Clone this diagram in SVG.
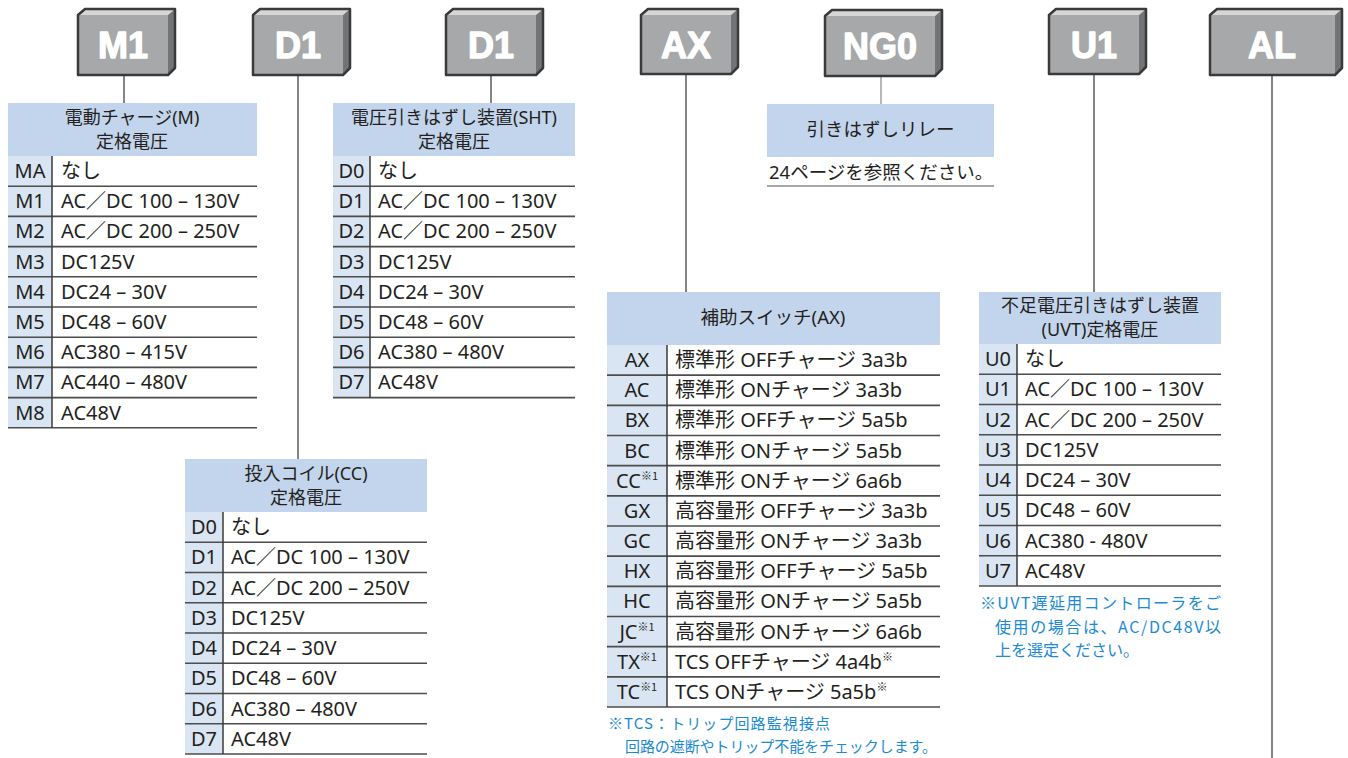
<svg xmlns="http://www.w3.org/2000/svg" width="1348" height="758" viewBox="0 0 1348 758">
<style>
text{font-family:"Noto Sans","Noto Sans CJK JP",sans-serif;fill:#231f20}
.bt{font-family:"Liberation Sans",Arial,sans-serif;font-weight:bold;font-size:36px;fill:#fff;text-anchor:middle;stroke:#fff;stroke-width:1.3;stroke-linejoin:round}
.fr{fill:#a7a8aa}.tp{fill:#d5d6d7}.sd{fill:#737477}
.ol{fill:none;stroke:#3a3a3a;stroke-width:2.5;stroke-linejoin:round}
.hd{fill:#c3d5ec}.cd{fill:#dae5f3}
.h{font-size:18px;text-anchor:middle}
.c{font-size:20px;text-anchor:middle}
.v{font-size:20px}
.ln{stroke:#4d4d4d;stroke-width:1.6}
.dv{stroke:#3a3a3a;stroke-width:1.5}
.n{font-size:15px;fill:#1a8ad2;font-family:"Noto Sans CJK JP","Noto Sans",sans-serif}
.con{stroke:#333;stroke-width:1.2;fill:none}
.sup{font-size:11px;font-family:"Noto Sans CJK JP",sans-serif}
</style>

<g id="connectors">
<line class="con" x1="124" y1="75" x2="124" y2="103"/>
<line class="con" x1="298" y1="75" x2="298" y2="459"/>
<line class="con" x1="491" y1="75" x2="491" y2="103"/>
<line class="con" x1="686" y1="74" x2="686" y2="292"/>
<line class="con" x1="881" y1="76" x2="881" y2="104" style="stroke:#888"/>
<line class="con" x1="1094" y1="74" x2="1094" y2="292"/>
<line class="con" x1="1272" y1="75" x2="1272" y2="758"/>
</g>

<g id="box-M1">
<rect class="fr" x="78" y="15" width="90" height="60"/>
<polygon class="tp" points="78,15 85,9 175,9 168,15"/>
<polygon class="sd" points="168,15 175,9 175,68 168,75"/>
<path class="ol" d="M78,15 L85,9 L175,9 L175,68 L168,75 L78,75 Z"/>
<text class="bt" x="123" y="58">M1</text>
</g>
<g id="box-D1a">
<rect class="fr" x="253" y="15" width="90" height="60"/>
<polygon class="tp" points="253,15 260,9 350,9 343,15"/>
<polygon class="sd" points="343,15 350,9 350,68 343,75"/>
<path class="ol" d="M253,15 L260,9 L350,9 L350,68 L343,75 L253,75 Z"/>
<text class="bt" x="298" y="58">D1</text>
</g>
<g id="box-D1b">
<rect class="fr" x="446" y="15" width="90" height="60"/>
<polygon class="tp" points="446,15 453,9 543,9 536,15"/>
<polygon class="sd" points="536,15 543,9 543,68 536,75"/>
<path class="ol" d="M446,15 L453,9 L543,9 L543,68 L536,75 L446,75 Z"/>
<text class="bt" x="491" y="58">D1</text>
</g>
<g id="box-AX">
<rect class="fr" x="641" y="15" width="90" height="59"/>
<polygon class="tp" points="641,15 648,9 738,9 731,15"/>
<polygon class="sd" points="731,15 738,9 738,67 731,74"/>
<path class="ol" d="M641,15 L648,9 L738,9 L738,67 L731,74 L641,74 Z"/>
<text class="bt" x="686" y="58">AX</text>
</g>
<g id="box-NG0">
<rect class="fr" x="825" y="16" width="110" height="60"/>
<polygon class="tp" points="825,16 832,10 942,10 935,16"/>
<polygon class="sd" points="935,16 942,10 942,69 935,76"/>
<path class="ol" d="M825,16 L832,10 L942,10 L942,69 L935,76 L825,76 Z"/>
<text class="bt" x="880" y="59">NG0</text>
</g>
<g id="box-U1">
<rect class="fr" x="1049" y="15" width="90" height="59"/>
<polygon class="tp" points="1049,15 1056,9 1146,9 1139,15"/>
<polygon class="sd" points="1139,15 1146,9 1146,67 1139,74"/>
<path class="ol" d="M1049,15 L1056,9 L1146,9 L1146,67 L1139,74 L1049,74 Z"/>
<text class="bt" x="1094" y="58">U1</text>
</g>
<g id="box-AL">
<rect class="fr" x="1210" y="15" width="125" height="60"/>
<polygon class="tp" points="1210,15 1217,9 1342,9 1335,15"/>
<polygon class="sd" points="1335,15 1342,9 1342,68 1335,75"/>
<path class="ol" d="M1210,15 L1217,9 L1342,9 L1342,68 L1335,75 L1210,75 Z"/>
<text class="bt" x="1272" y="58">AL</text>
</g>

<g id="table-M">
<rect class="hd" x="8" y="103" width="249" height="53"/>
<text class="h" x="132" y="124">電動チャージ(M)</text>
<text class="h" x="132" y="148">定格電圧</text>
<rect class="cd" x="8" y="156" width="44" height="272"/>
<line class="ln" x1="8" y1="186.2" x2="257" y2="186.2"/>
<line class="ln" x1="8" y1="216.4" x2="257" y2="216.4"/>
<line class="ln" x1="8" y1="246.6" x2="257" y2="246.6"/>
<line class="ln" x1="8" y1="276.8" x2="257" y2="276.8"/>
<line class="ln" x1="8" y1="307" x2="257" y2="307"/>
<line class="ln" x1="8" y1="337.2" x2="257" y2="337.2"/>
<line class="ln" x1="8" y1="367.4" x2="257" y2="367.4"/>
<line class="ln" x1="8" y1="397.6" x2="257" y2="397.6"/>
<line class="ln" x1="8" y1="427.8" x2="257" y2="427.8"/>
<line class="dv" x1="52" y1="156" x2="52" y2="428"/>
<text class="c" x="30" y="178">MA</text><text class="v" x="61" y="178">なし</text>
<text class="c" x="30" y="208.2">M1</text><text class="v" x="61" y="208.2">AC／DC 100 – 130V</text>
<text class="c" x="30" y="238.4">M2</text><text class="v" x="61" y="238.4">AC／DC 200 – 250V</text>
<text class="c" x="30" y="268.6">M3</text><text class="v" x="61" y="268.6">DC125V</text>
<text class="c" x="30" y="298.8">M4</text><text class="v" x="61" y="298.8">DC24 – 30V</text>
<text class="c" x="30" y="329">M5</text><text class="v" x="61" y="329">DC48 – 60V</text>
<text class="c" x="30" y="359.2">M6</text><text class="v" x="61" y="359.2">AC380 – 415V</text>
<text class="c" x="30" y="389.4">M7</text><text class="v" x="61" y="389.4">AC440 – 480V</text>
<text class="c" x="30" y="419.6">M8</text><text class="v" x="61" y="419.6">AC48V</text>
</g>

<g id="table-SHT">
<rect class="hd" x="333" y="103" width="242" height="53"/>
<text class="h" x="454" y="124">電圧引きはずし装置(SHT)</text>
<text class="h" x="454" y="148">定格電圧</text>
<rect class="cd" x="333" y="156" width="37" height="242"/>
<line class="ln" x1="333" y1="186.2" x2="575" y2="186.2"/>
<line class="ln" x1="333" y1="216.4" x2="575" y2="216.4"/>
<line class="ln" x1="333" y1="246.6" x2="575" y2="246.6"/>
<line class="ln" x1="333" y1="276.8" x2="575" y2="276.8"/>
<line class="ln" x1="333" y1="307" x2="575" y2="307"/>
<line class="ln" x1="333" y1="337.2" x2="575" y2="337.2"/>
<line class="ln" x1="333" y1="367.4" x2="575" y2="367.4"/>
<line class="ln" x1="333" y1="397.6" x2="575" y2="397.6"/>
<line class="dv" x1="370" y1="156" x2="370" y2="398"/>
<text class="c" x="351.5" y="178">D0</text><text class="v" x="378" y="178">なし</text>
<text class="c" x="351.5" y="208.2">D1</text><text class="v" x="378" y="208.2">AC／DC 100 – 130V</text>
<text class="c" x="351.5" y="238.4">D2</text><text class="v" x="378" y="238.4">AC／DC 200 – 250V</text>
<text class="c" x="351.5" y="268.6">D3</text><text class="v" x="378" y="268.6">DC125V</text>
<text class="c" x="351.5" y="298.8">D4</text><text class="v" x="378" y="298.8">DC24 – 30V</text>
<text class="c" x="351.5" y="329">D5</text><text class="v" x="378" y="329">DC48 – 60V</text>
<text class="c" x="351.5" y="359.2">D6</text><text class="v" x="378" y="359.2">AC380 – 480V</text>
<text class="c" x="351.5" y="389.4">D7</text><text class="v" x="378" y="389.4">AC48V</text>
</g>

<g id="table-CC">
<rect class="hd" x="185" y="459" width="242" height="53"/>
<text class="h" x="306" y="480">投入コイル(CC)</text>
<text class="h" x="306" y="504">定格電圧</text>
<rect class="cd" x="185" y="512" width="38" height="242"/>
<line class="ln" x1="185" y1="542.25" x2="427" y2="542.25"/>
<line class="ln" x1="185" y1="572.5" x2="427" y2="572.5"/>
<line class="ln" x1="185" y1="602.75" x2="427" y2="602.75"/>
<line class="ln" x1="185" y1="633" x2="427" y2="633"/>
<line class="ln" x1="185" y1="663.25" x2="427" y2="663.25"/>
<line class="ln" x1="185" y1="693.5" x2="427" y2="693.5"/>
<line class="ln" x1="185" y1="723.75" x2="427" y2="723.75"/>
<line class="ln" x1="185" y1="754" x2="427" y2="754"/>
<line class="dv" x1="223" y1="512" x2="223" y2="754"/>
<text class="c" x="204" y="534">D0</text><text class="v" x="231" y="534">なし</text>
<text class="c" x="204" y="564.25">D1</text><text class="v" x="231" y="564.25">AC／DC 100 – 130V</text>
<text class="c" x="204" y="594.5">D2</text><text class="v" x="231" y="594.5">AC／DC 200 – 250V</text>
<text class="c" x="204" y="624.75">D3</text><text class="v" x="231" y="624.75">DC125V</text>
<text class="c" x="204" y="655">D4</text><text class="v" x="231" y="655">DC24 – 30V</text>
<text class="c" x="204" y="685.25">D5</text><text class="v" x="231" y="685.25">DC48 – 60V</text>
<text class="c" x="204" y="715.5">D6</text><text class="v" x="231" y="715.5">AC380 – 480V</text>
<text class="c" x="204" y="745.75">D7</text><text class="v" x="231" y="745.75">AC48V</text>
</g>

<g id="relay-NG0">
<rect class="hd" x="767" y="104" width="227" height="53"/>
<text class="h" x="880.5" y="136" style="font-size:18.5px">引きはずしリレー</text>
<text x="769" y="179" style="font-size:18.5px">24ページを参照ください。</text>
<line x1="767" y1="186" x2="994" y2="186" style="stroke:#8a8a8a;stroke-width:1.5"/>
</g>

<g id="table-AX">
<rect class="hd" x="607" y="292" width="333" height="53"/>
<text class="h" x="773" y="324" style="font-size:18.5px">補助スイッチ(AX)</text>
<rect class="cd" x="607" y="345" width="60" height="362"/>
<line class="ln" x1="607" y1="375.17" x2="940" y2="375.17"/>
<line class="ln" x1="607" y1="405.33" x2="940" y2="405.33"/>
<line class="ln" x1="607" y1="435.5" x2="940" y2="435.5"/>
<line class="ln" x1="607" y1="465.67" x2="940" y2="465.67"/>
<line class="ln" x1="607" y1="495.83" x2="940" y2="495.83"/>
<line class="ln" x1="607" y1="526" x2="940" y2="526"/>
<line class="ln" x1="607" y1="556.17" x2="940" y2="556.17"/>
<line class="ln" x1="607" y1="586.33" x2="940" y2="586.33"/>
<line class="ln" x1="607" y1="616.5" x2="940" y2="616.5"/>
<line class="ln" x1="607" y1="646.67" x2="940" y2="646.67"/>
<line class="ln" x1="607" y1="676.83" x2="940" y2="676.83"/>
<line class="ln" x1="607" y1="707" x2="940" y2="707"/>
<line class="dv" x1="667" y1="345" x2="667" y2="707"/>
<text class="c" x="637" y="367">AX</text><text class="v" x="675" y="367">標準形 OFFチャージ 3a3b</text>
<text class="c" x="637" y="397.17">AC</text><text class="v" x="675" y="397.17">標準形 ONチャージ 3a3b</text>
<text class="c" x="637" y="427.33">BX</text><text class="v" x="675" y="427.33">標準形 OFFチャージ 5a5b</text>
<text class="c" x="637" y="457.5">BC</text><text class="v" x="675" y="457.5">標準形 ONチャージ 5a5b</text>
<text class="c" x="637" y="487.67">CC<tspan class="sup" dy="-8">※1</tspan></text><text class="v" x="675" y="487.67">標準形 ONチャージ 6a6b</text>
<text class="c" x="637" y="517.83">GX</text><text class="v" x="675" y="517.83">高容量形 OFFチャージ 3a3b</text>
<text class="c" x="637" y="548">GC</text><text class="v" x="675" y="548">高容量形 ONチャージ 3a3b</text>
<text class="c" x="637" y="578.17">HX</text><text class="v" x="675" y="578.17">高容量形 OFFチャージ 5a5b</text>
<text class="c" x="637" y="608.33">HC</text><text class="v" x="675" y="608.33">高容量形 ONチャージ 5a5b</text>
<text class="c" x="637" y="638.5">JC<tspan class="sup" dy="-8">※1</tspan></text><text class="v" x="675" y="638.5">高容量形 ONチャージ 6a6b</text>
<text class="c" x="637" y="668.67">TX<tspan class="sup" dy="-8">※1</tspan></text><text class="v" x="675" y="668.67">TCS OFFチャージ 4a4b<tspan class="sup" dy="-8">※</tspan></text>
<text class="c" x="637" y="698.83">TC<tspan class="sup" dy="-8">※1</tspan></text><text class="v" x="675" y="698.83">TCS ONチャージ 5a5b<tspan class="sup" dy="-8">※</tspan></text>
<text class="n" x="608" y="729" textLength="222" lengthAdjust="spacing">※TCS：トリップ回路監視接点</text>
<text class="n" x="625" y="752" textLength="312" lengthAdjust="spacing">回路の遮断やトリップ不能をチェックします。</text>
</g>

<g id="table-UVT">
<rect class="hd" x="979" y="292" width="242" height="52"/>
<text class="h" x="1100" y="312">不足電圧引きはずし装置</text>
<text class="h" x="1100" y="336">(UVT)定格電圧</text>
<rect class="cd" x="979" y="344" width="38" height="242"/>
<line class="ln" x1="979" y1="374.25" x2="1221" y2="374.25"/>
<line class="ln" x1="979" y1="404.5" x2="1221" y2="404.5"/>
<line class="ln" x1="979" y1="434.75" x2="1221" y2="434.75"/>
<line class="ln" x1="979" y1="465" x2="1221" y2="465"/>
<line class="ln" x1="979" y1="495.25" x2="1221" y2="495.25"/>
<line class="ln" x1="979" y1="525.5" x2="1221" y2="525.5"/>
<line class="ln" x1="979" y1="555.75" x2="1221" y2="555.75"/>
<line class="ln" x1="979" y1="586" x2="1221" y2="586"/>
<line class="dv" x1="1017" y1="344" x2="1017" y2="586"/>
<text class="c" x="998" y="366">U0</text><text class="v" x="1025" y="366">なし</text>
<text class="c" x="998" y="396.25">U1</text><text class="v" x="1025" y="396.25">AC／DC 100 – 130V</text>
<text class="c" x="998" y="426.5">U2</text><text class="v" x="1025" y="426.5">AC／DC 200 – 250V</text>
<text class="c" x="998" y="456.75">U3</text><text class="v" x="1025" y="456.75">DC125V</text>
<text class="c" x="998" y="487">U4</text><text class="v" x="1025" y="487">DC24 – 30V</text>
<text class="c" x="998" y="517.25">U5</text><text class="v" x="1025" y="517.25">DC48 – 60V</text>
<text class="c" x="998" y="547.5">U6</text><text class="v" x="1025" y="547.5">AC380 - 480V</text>
<text class="c" x="998" y="577.75">U7</text><text class="v" x="1025" y="577.75">AC48V</text>
<text class="n" x="980" y="609" style="font-size:16px" textLength="241" lengthAdjust="spacing">※UVT遅延用コントローラをご</text>
<text class="n" x="995" y="633" style="font-size:16px" textLength="226" lengthAdjust="spacing">使用の場合は、AC/DC48V以</text>
<text class="n" x="995" y="656" style="font-size:16px">上を選定ください。</text>
</g>
</svg>
